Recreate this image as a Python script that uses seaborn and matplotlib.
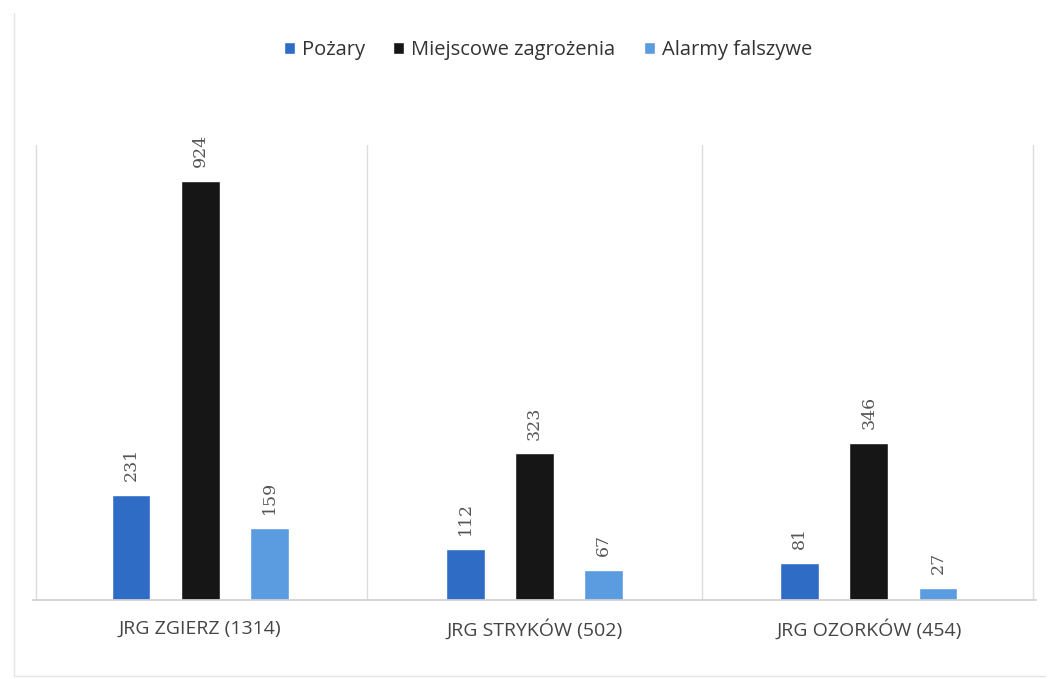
import matplotlib
matplotlib.use("Agg")
import matplotlib.pyplot as plt
import seaborn as sns
import pandas as pd

jednostki = ["JRG ZGIERZ (1314)", "JRG STRYKÓW (502)", "JRG OZORKÓW (454)"]
serie = ["Pożary", "Miejscowe zagrożenia", "Alarmy falszywe"]
pozary = [231, 112, 81]
miejscowe = [924, 323, 346]
falszywe = [159, 67, 27]
kolory = ["#2f6cc6", "#161616", "#5b9be0"]

rows = []
for i, j in enumerate(jednostki):
    for s, vals in zip(serie, [pozary, miejscowe, falszywe]):
        rows.append({"Jednostka": j, "Rodzaj": s, "Liczba": vals[i]})
df = pd.DataFrame(rows)

sns.set_theme(style="white")
plt.rcParams["font.family"] = ["Open Sans", "DejaVu Sans"]

W, H = 1058, 679
fig = plt.figure(figsize=(W / 100, H / 100), dpi=100)
ax = fig.add_axes([33 / W, 79 / H, 1003 / W, 455 / H])

sns.barplot(data=df, x="Jednostka", y="Liczba", hue="Rodzaj", palette=kolory,
            width=0.62, gap=0.44, ax=ax, saturation=1)

for cont in ax.containers:
    ax.bar_label(cont, labels=[f"{v:.0f}" for v in cont.datavalues], rotation=90,
                 padding=10, fontsize=12.5, color="#555555", family="DejaVu Serif")

ax.set_ylim(0, 1003)
ax.set_xlim(-0.5, 2.5)
ax.set_xlabel("")
ax.set_ylabel("")
ax.set_yticks([])
for s in ["top", "right", "left"]:
    ax.spines[s].set_visible(False)
ax.spines["bottom"].set_color("#d0d0d0")
for xs in [-0.49, 0.5, 1.5, 2.49]:
    ax.axvline(xs, color="#dcdcdc", lw=1)
ax.tick_params(axis="x", length=0, pad=14, labelsize=14, labelcolor="#444444")

h, l = ax.get_legend_handles_labels()
ax.legend(h, l, loc="center", bbox_to_anchor=(548 / W, 1 - 50 / H),
          bbox_transform=fig.transFigure, ncol=3, frameon=False, fontsize=14.5,
          handlelength=0.55, handleheight=0.55, handletextpad=0.35, columnspacing=1.4,
          labelcolor="#333333")

# ramka skanu
fig.add_artist(plt.Line2D([14 / W, 14 / W], [3 / H, 666 / H],
                          transform=fig.transFigure, color="#e4e4e4", lw=1))
fig.add_artist(plt.Line2D([14 / W, 1045 / W], [3 / H, 3 / H],
                          transform=fig.transFigure, color="#e4e4e4", lw=1))

fig.savefig("out.png", dpi=100)
